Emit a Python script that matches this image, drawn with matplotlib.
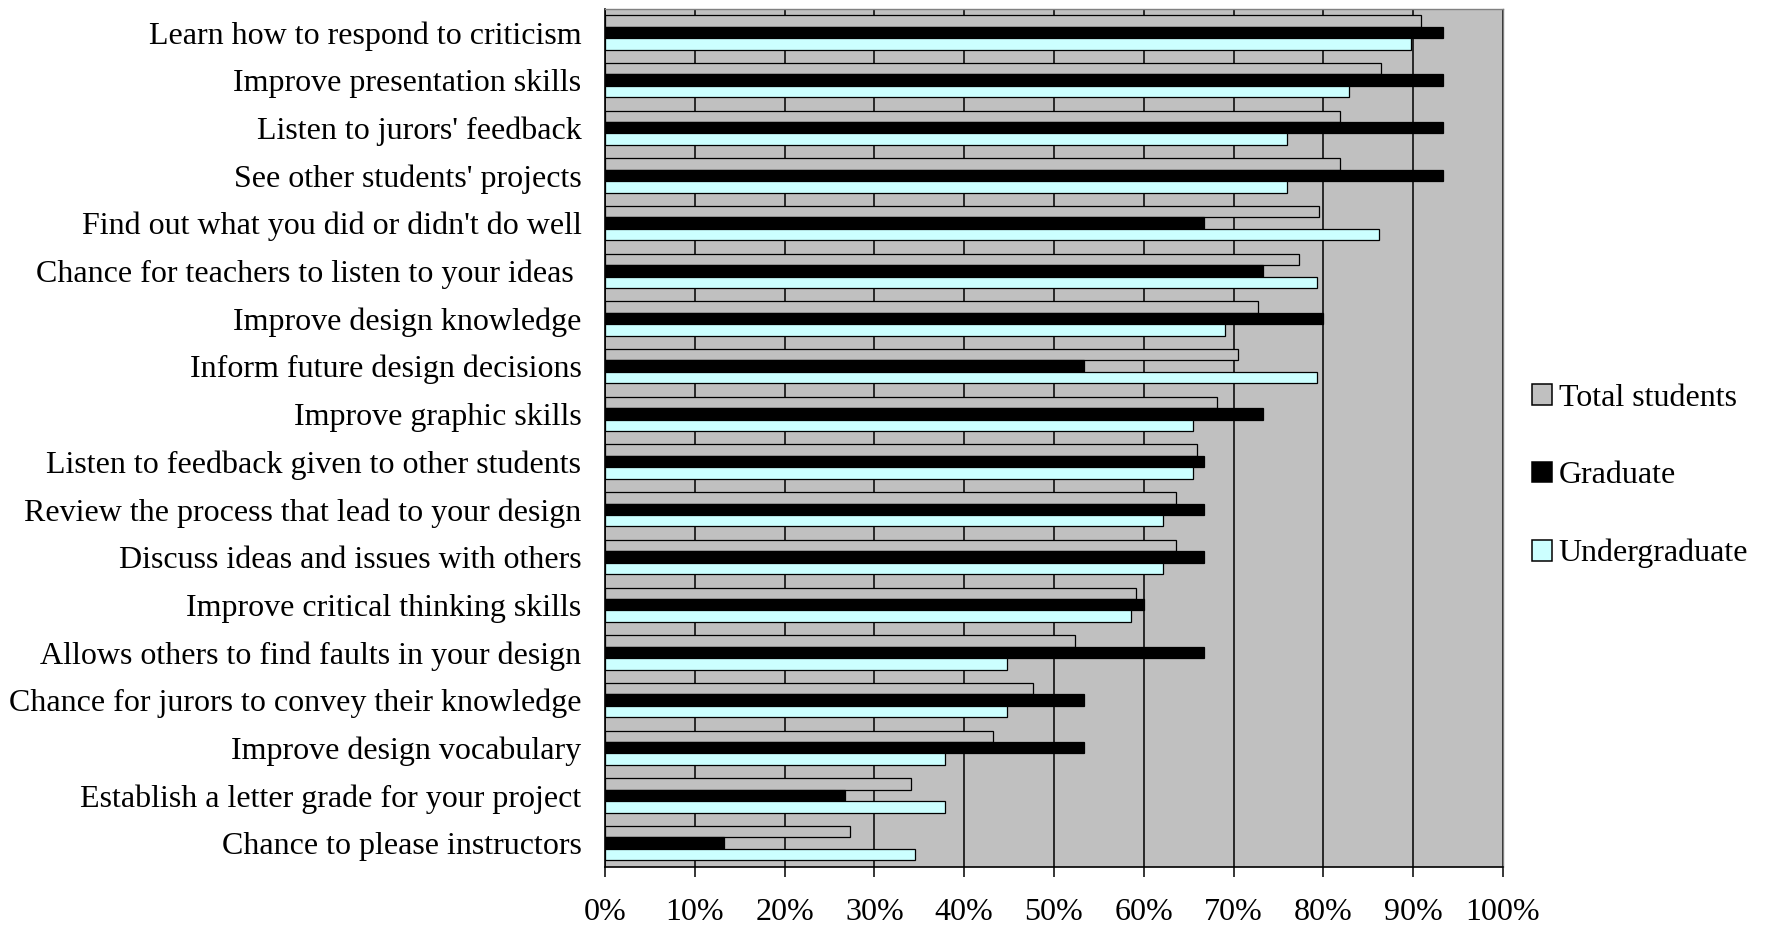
import numpy as np
import matplotlib
matplotlib.use("Agg")
import matplotlib.pyplot as plt
from matplotlib.patches import Patch

categories = [
    "Learn how to respond to criticism",
    "Improve presentation skills",
    "Listen to jurors' feedback",
    "See other students' projects",
    "Find out what you did or didn't do well",
    "Chance for teachers to listen to your ideas ",
    "Improve design knowledge",
    "Inform future design decisions",
    "Improve graphic skills",
    "Listen to feedback given to other students",
    "Review the process that lead to your design",
    "Discuss ideas and issues with others",
    "Improve critical thinking skills",
    "Allows others to find faults in your design",
    "Chance for jurors to convey their knowledge",
    "Improve design vocabulary",
    "Establish a letter grade for your project",
    "Chance to please instructors",
]

# percent of respondents
total_students = [90.9, 86.4, 81.8, 81.8, 79.5, 77.3, 72.7, 70.5, 68.2,
                  65.9, 63.6, 63.6, 59.1, 52.3, 47.7, 43.2, 34.1, 27.3]
graduate = [93.3, 93.3, 93.3, 93.3, 66.7, 73.3, 80.0, 53.3, 73.3,
            66.7, 66.7, 66.7, 60.0, 66.7, 53.3, 53.3, 26.7, 13.3]
undergraduate = [89.7, 82.8, 75.9, 75.9, 86.2, 79.3, 69.0, 79.3, 65.5,
                 65.5, 62.1, 62.1, 58.6, 44.8, 44.8, 37.9, 37.9, 34.5]

series_names = ["Total students", "Graduate", "Undergraduate"]
series_colors = ["#C0C0C0", "#000000", "#CCFFFF"]

plt.rcParams["font.family"] = ["Liberation Serif", "DejaVu Serif"]
FS = 23

fig = plt.figure(figsize=(17.68, 9.31), dpi=100)
ax = fig.add_axes([605 / 1768, 1 - 867 / 931, 898 / 1768, 858.5 / 931])
ax.set_facecolor("#C0C0C0")

y = np.arange(len(categories))
h = 0.24
for k, (vals, col) in enumerate(zip([total_students, graduate, undergraduate], series_colors)):
    ax.barh(y + (k - 1) * h, vals, height=h, color=col,
            edgecolor="black", linewidth=0.9, zorder=3)

ax.set_xlim(0, 100)
ax.set_ylim(len(categories) - 0.5, -0.5)
ax.set_xticks(np.arange(0, 101, 10))
ax.set_xticklabels([f"{t}%" for t in range(0, 101, 10)])
ax.set_yticks(y)
ax.set_yticklabels(categories)
ax.tick_params(axis="x", direction="out", length=7.5, width=1.1,
               labelsize=FS, pad=15, color="black")
ax.tick_params(axis="y", length=0, labelsize=FS, pad=17)
ax.grid(axis="x", color="black", linewidth=1.1, zorder=1)
ax.set_axisbelow(True)

for side in ("left", "bottom"):
    ax.spines[side].set_color("black")
    ax.spines[side].set_linewidth(1.2)
for side in ("top", "right"):
    ax.spines[side].set_color("#808080")
    ax.spines[side].set_linewidth(1.0)

handles = [Patch(facecolor=c, edgecolor="black", linewidth=1.1) for c in series_colors]
fig.legend(handles, series_names, loc="center left",
           bbox_to_anchor=(1532 / 1768, 1 - 476 / 931),
           frameon=False, fontsize=FS, handlelength=0.63, handleheight=0.63,
           handletextpad=0.2, labelspacing=1.52, borderpad=0, borderaxespad=0)

fig.savefig("out.png", dpi=100, facecolor="white")
